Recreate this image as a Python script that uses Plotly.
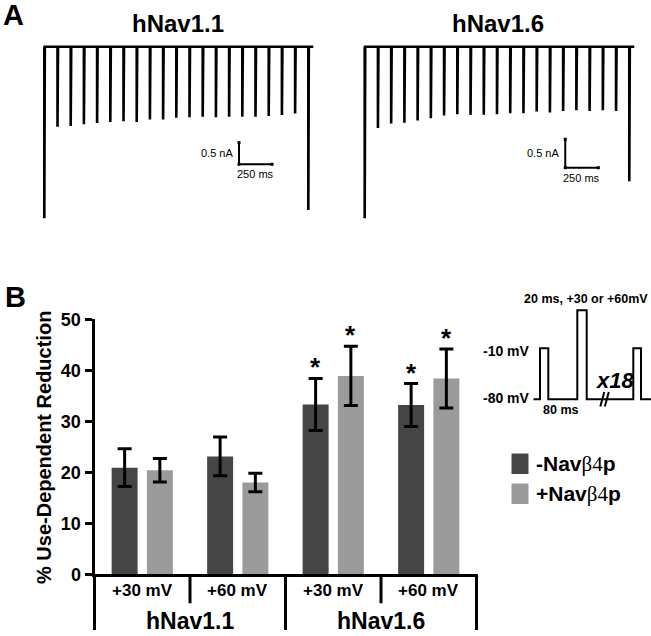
import plotly.graph_objects as go

# ---------------- data ----------------
# Panel A: peak current amplitudes (nA) of the pulse train (first, 19 conditioning pulses, last)
pulse_period_ms = 100
trace_end_ms = 2038
nav11_first = 3.96
nav11_mid = [1.85, 1.83, 1.79, 1.76, 1.74, 1.72, 1.74, 1.68, 1.68, 1.64,
             1.63, 1.62, 1.63, 1.62, 1.62, 1.62, 1.60, 1.58, 1.54]
nav11_last = 3.77
nav16_first = 3.02
nav16_mid = [1.43, 1.35, 1.34, 1.30, 1.26, 1.21, 1.19, 1.20, 1.20, 1.19,
             1.17, 1.17, 1.14, 1.16, 1.13, 1.12, 1.13, 1.12, 1.13]
nav16_last = 2.37
scale_nA = 0.5
scale_ms = 250

# Panel B
channels = ["hNav1.1", "hNav1.1", "hNav1.6", "hNav1.6"]
voltages = ["+30 mV", "+60 mV", "+30 mV", "+60 mV"]
minus_vals = [20.9, 23.1, 33.3, 33.2]
minus_err = [3.7, 3.8, 5.1, 4.2]
plus_vals = [20.4, 18.0, 38.9, 38.4]
plus_err = [2.3, 1.8, 5.8, 5.8]
minus_sig = [False, False, True, True]
plus_sig = [False, False, True, True]
series_names = ["-Navβ4p", "+Navβ4p"]
y_ticks = [0, 10, 20, 30, 40, 50]

# Protocol schematic (schematic time units, mV)
proto_t = [0, 6.7, 6.7, 15, 15, 44, 44, 53.4, 53.4, 100, 100, 107.7, 107.7, 117.7]
proto_v = [-80, -80, -10, -10, -80, -80, 42, 42, -80, -80, -10, -10, -80, -80]

W, H = 651, 636
def px(x):
    return x / W
def py(y):
    return 1 - y / H

DARK = "#454545"
LIGHT = "#9b9b9b"
FONT = "Liberation Sans"

def build_trace(first, mids, last):
    amps = [first] + mids + [last]
    xs, ys = [], []
    for i, a in enumerate(amps):
        t = i * pulse_period_ms
        xs += [t, t, t + 4]
        ys += [0, -a, 0]
    xs.append(trace_end_ms)
    ys.append(0)
    return xs, ys

fig = go.Figure()

# ---- Panel A traces ----
for k, (first, mids, last) in enumerate([(nav11_first, nav11_mid, nav11_last),
                                         (nav16_first, nav16_mid, nav16_last)]):
    xs, ys = build_trace(first, mids, last)
    ax = str(k + 2)
    fig.add_trace(go.Scatter(x=xs, y=ys, mode="lines", line=dict(color="black", width=2.6),
                             xaxis="x" + ax, yaxis="y" + ax, showlegend=False, hoverinfo="skip"))

# scale bars
sb = [(1475, -2.716, "x2", "y2"), (1516, -2.13, "x3", "y3")]
for t0, y0, xa, ya in sb:
    fig.add_trace(go.Scatter(x=[t0, t0, t0 + scale_ms], y=[y0 + scale_nA, y0, y0],
                             mode="lines+markers", marker=dict(size=3, color="black", symbol="square"),
                             line=dict(color="black", width=2), xaxis=xa, yaxis=ya,
                             showlegend=False, hoverinfo="skip"))
    fig.add_annotation(x=t0, y=y0 + scale_nA / 2, xref=xa, yref=ya, text="%.1f nA" % scale_nA,
                       xanchor="right", yanchor="middle", xshift=-4, showarrow=False,
                       font=dict(family=FONT, size=11, color="black"))
    fig.add_annotation(x=t0 + scale_ms / 2, y=y0, xref=xa, yref=ya, text="%d ms" % scale_ms,
                       xanchor="center", yanchor="top", yshift=-2, showarrow=False,
                       font=dict(family=FONT, size=11, color="black"))

# ---- Panel B bars ----
cats = [c + " " + v for c, v in zip(channels, voltages)]
fig.add_trace(go.Bar(x=cats, y=minus_vals, name=series_names[0], marker=dict(color=DARK, line=dict(width=0)),
                     error_y=dict(type="data", array=minus_err, color="black", thickness=3, width=7),
                     showlegend=False, xaxis="x", yaxis="y"))
fig.add_trace(go.Bar(x=cats, y=plus_vals, name=series_names[1], marker=dict(color=LIGHT, line=dict(width=0)),
                     error_y=dict(type="data", array=plus_err, color="black", thickness=3, width=7),
                     showlegend=False, xaxis="x", yaxis="y"))

# protocol schematic
fig.add_trace(go.Scatter(x=proto_t, y=proto_v, mode="lines", line=dict(color="black", width=2),
                         xaxis="x4", yaxis="y4", showlegend=False, hoverinfo="skip"))
fig.add_trace(go.Scatter(x=[67, 71, None, 71.5, 75.5], y=[-90, -70, None, -90, -70], mode="lines",
                         line=dict(color="black", width=2), xaxis="x4", yaxis="y4",
                         showlegend=False, hoverinfo="skip"))

def ann_font(s):
    return dict(family=FONT, size=s, color="black", weight="bold")

def note(x, y, text, size, xanchor="center", yanchor="middle", xref="paper", yref="paper", **kw):
    fig.add_annotation(x=x, y=y, xref=xref, yref=yref, text=text, xanchor=xanchor, yanchor=yanchor,
                       showarrow=False, font=ann_font(size), **kw)

# asterisks
for i, c in enumerate(cats):
    if minus_sig[i]:
        note(i - 0.185, minus_vals[i] + minus_err[i], "*", 26, yanchor="bottom", xref="x", yref="y", yshift=-6)
    if plus_sig[i]:
        note(i + 0.185, plus_vals[i] + plus_err[i], "*", 26, yanchor="bottom", xref="x", yref="y", yshift=-6)

# category labels & dividers
for i, v in enumerate(voltages):
    note(i, py(590.7), v, 17, xref="x")
for ch, pos in [("hNav1.1", 0.5), ("hNav1.6", 2.5)]:
    note(pos, py(621), ch, 23, xref="x")

ax_bottom = py(574.3)
shapes = []
for xb, long in [(0.5, False), (1.5, True), (2.5, False)]:
    shapes.append(dict(type="line", xref="x", yref="paper", x0=xb, x1=xb, y0=ax_bottom,
                       y1=py(630) if long else py(603.3), line=dict(color="black", width=3)))
for xd in [0, 1]:
    shapes.append(dict(type="line", xref="x domain", yref="paper", x0=xd, x1=xd, y0=ax_bottom,
                       y1=py(630), line=dict(color="black", width=3)))

# legend (manual)
for j, (col, name) in enumerate([(DARK, series_names[0]), (LIGHT, series_names[1])]):
    y0 = 453.5 + j * 30
    shapes.append(dict(type="rect", xref="paper", yref="paper", x0=px(511.5), x1=px(528.5),
                       y0=py(y0), y1=py(y0 + 20.5), fillcolor=col, line=dict(width=0)))
    sign = name[0]
    txt = ("<b>%sNav</b><span style='font-family:Liberation Serif;font-weight:normal'>β4</span><b>p</b>"
           % sign)
    fig.add_annotation(x=px(534), y=py(y0 + 10.5), xref="paper", yref="paper", text=txt,
                       xanchor="left", yanchor="middle", showarrow=False,
                       font=dict(family=FONT, size=21, color="black"))

# protocol labels
note(px(586), py(298.5), "20 ms, +30 or +60mV", 12.5)
note(px(532), py(350.5), "-10 mV", 14, xanchor="right")
note(px(532), py(398), "-80 mV", 14, xanchor="right")
note(px(560), py(410), "80 ms", 12.5)
note(px(615), py(380), "<i>x18</i>", 22)

# titles / panel letters
note(px(177.5), py(24), "hNav1.1", 24)
note(px(497.5), py(23), "hNav1.6", 24)
note(px(13.5), py(15), "A", 29)
note(px(15), py(297), "B", 29)
note(px(44), py(448), "% Use-Dependent Reduction", 20, textangle=-90)

hidden = dict(visible=False, showgrid=False, zeroline=False, fixedrange=True)
fig.update_layout(
    width=W, height=H, margin=dict(l=0, r=0, t=0, b=0, autoexpand=False),
    paper_bgcolor="white", plot_bgcolor="rgba(0,0,0,0)",
    barmode="group", bargap=0.262, bargroupgap=0.263,
    shapes=shapes,
    xaxis=dict(domain=[px(94.5), px(476.5)], type="category", range=[-0.5, 3.5],
               showline=True, linecolor="black", linewidth=3, showticklabels=False,
               ticks="", showgrid=False, zeroline=False),
    yaxis=dict(domain=[py(574.3), py(319.3)], range=[0, 50], tickvals=y_ticks,
               showline=True, linecolor="black", linewidth=3, ticks="outside", ticklen=7,
               tickwidth=3, tickcolor="black", showgrid=False, zeroline=False,
               tickfont=dict(family=FONT, size=18, color="black", weight="bold")),
    xaxis2=dict(domain=[px(40), px(320)], range=[-32.6, 2088.6], anchor="y2", **hidden),
    yaxis2=dict(domain=[py(222), py(40)], range=[-4.049, 0.155], anchor="x2", **hidden),
    xaxis3=dict(domain=[px(360), px(640)], range=[-35.5, 2081], anchor="y3", **hidden),
    yaxis3=dict(domain=[py(222), py(40)], range=[-3.086, 0.118], anchor="x3", **hidden),
    xaxis4=dict(domain=[px(533.3), px(651)], range=[0, 117.7], anchor="y4", **hidden),
    yaxis4=dict(domain=[py(420), py(300)], range=[-108.4, 56.2], anchor="x4", **hidden),
)

fig.write_html("out.html", config={"displayModeBar": False},
               post_script="document.body.style.margin='0';")
